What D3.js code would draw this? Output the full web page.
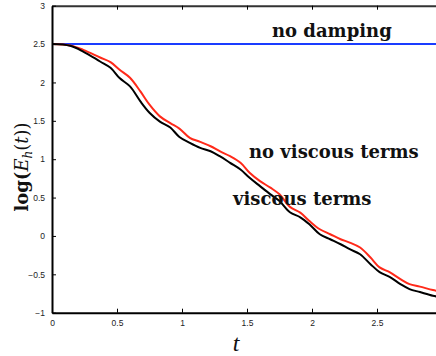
<!DOCTYPE html>
<html>
<head>
<meta charset="utf-8">
<script src="https://cdn.jsdelivr.net/npm/d3@7"></script>
<style>
  html, body { margin: 0; padding: 0; background: #fff; overflow: hidden; }
  svg { display: block; }
</style>
</head>
<body>
<svg id="chart" width="436" height="356"></svg>
<script>
// Time samples and log-energy series
const tValues = [0, 0.14, 0.24, 0.37, 0.45, 0.52, 0.60, 0.68, 0.75, 0.83,
  0.91, 0.98, 1.06, 1.14, 1.22, 1.29, 1.37, 1.45, 1.52, 1.60,
  1.68, 1.75, 1.83, 1.91, 1.98, 2.06, 2.14, 2.22, 2.29, 2.37,
  2.45, 2.52, 2.60, 2.68, 2.75, 2.83, 2.93, 3.0];
const viscous = [2.50, 2.477, 2.403, 2.273, 2.191, 2.057, 1.948, 1.753, 1.606, 1.490,
  1.412, 1.29, 1.213, 1.148, 1.104, 1.039, 0.953, 0.866, 0.758, 0.649,
  0.542, 0.455, 0.308, 0.243, 0.152, 0.022, -0.043, -0.108, -0.173, -0.238,
  -0.368, -0.471, -0.536, -0.627, -0.692, -0.731, -0.779, -0.80];
const noViscous = [2.50, 2.481, 2.425, 2.325, 2.265, 2.165, 2.061, 1.883, 1.710, 1.558,
  1.47, 1.399, 1.278, 1.226, 1.169, 1.104, 1.039, 0.953, 0.823, 0.714,
  0.629, 0.542, 0.379, 0.304, 0.195, 0.087, 0.022, -0.043, -0.086, -0.151,
  -0.281, -0.410, -0.475, -0.562, -0.627, -0.66, -0.705, -0.73];
const noDampingLevel = 2.5;
const xTicks = [0, 0.5, 1, 1.5, 2, 2.5];
const yTicks = [-1, -0.5, 0, 0.5, 1, 1.5, 2, 2.5, 3];
const seriesLabels = ["no damping", "no viscous terms", "viscous terms"];

const svg = d3.select("#chart");
const x = d3.scaleLinear().domain([0, 3]).range([52, 442]);
const y = d3.scaleLinear().domain([-1, 3]).range([312.7, 5.7]);

const tickFont = "'Liberation Sans', Arial, sans-serif";
const serif = "'DejaVu Serif', serif";

// Curves
const line = d3.line().x(d => x(d[0])).y(d => y(d[1])).curve(d3.curveCatmullRom.alpha(0.5));

svg.append("path")
  .datum(tValues.map(t => [t, noDampingLevel]))
  .attr("d", d3.line().x(d => x(d[0])).y(d => y(d[1])))
  .attr("fill", "none").attr("stroke", "#1a3cff").attr("stroke-width", 2);

svg.append("path")
  .datum(tValues.map((t, i) => [t, noViscous[i]]))
  .attr("d", line)
  .attr("fill", "none").attr("stroke", "#ff2a1a").attr("stroke-width", 2);

svg.append("path")
  .datum(tValues.map((t, i) => [t, viscous[i]]))
  .attr("d", line)
  .attr("fill", "none").attr("stroke", "#000").attr("stroke-width", 2);

// Axes
const axisBottomG = svg.append("g").attr("transform", `translate(0,${y(-1)})`)
  .call(d3.axisBottom(x).tickValues(xTicks).tickSizeInner(-4).tickSizeOuter(0).tickPadding(9)
    .tickFormat(d => d3.format("")(d)));
const axisTopG = svg.append("g").attr("transform", `translate(0,${y(3)})`)
  .call(d3.axisTop(x).tickValues(xTicks).tickSizeInner(-4).tickSizeOuter(0).tickFormat(""));
const axisLeftG = svg.append("g").attr("transform", `translate(${x(0)},0)`)
  .call(d3.axisLeft(y).tickValues(yTicks).tickSizeInner(-4).tickSizeOuter(0).tickPadding(7)
    .tickFormat(d => d3.format("")(d).replace("-", "\u2212")));

[axisBottomG, axisTopG, axisLeftG].forEach(g => {
  g.select(".domain").attr("stroke", "#000").attr("stroke-width", 2);
  g.selectAll(".tick line").attr("stroke", "#000").attr("stroke-width", 1);
  g.selectAll(".tick text").attr("font-family", tickFont).attr("font-size", 8.5).attr("fill", "#222");
});
axisTopG.select(".domain").attr("stroke", "#333");
axisBottomG.selectAll(".tick text").attr("dy", "0.5em");

// Series labels
const labelPos = [[272, 36.7], [249, 158.3], [233, 205]];
seriesLabels.forEach((s, i) => {
  svg.append("text")
    .attr("x", labelPos[i][0]).attr("y", labelPos[i][1])
    .attr("font-family", serif).attr("font-weight", "bold").attr("font-size", 18)
    .attr("fill", "#111").text(s);
});

// Axis titles
svg.append("text")
  .attr("x", 236).attr("y", 351).attr("text-anchor", "middle")
  .attr("font-family", "'Liberation Serif', serif").attr("font-style", "italic")
  .attr("font-size", 24).attr("fill", "#111").text("t");

const yl = svg.append("text")
  .attr("transform", "translate(28,167) rotate(-90)")
  .attr("text-anchor", "middle")
  .attr("font-family", serif).attr("font-size", 18).attr("fill", "#111");
yl.append("tspan").attr("font-weight", "bold").text("log(");
yl.append("tspan").attr("font-style", "italic").text("E");
yl.append("tspan").attr("font-style", "italic").attr("font-size", 12).attr("dy", 4).text("h");
yl.append("tspan").attr("dy", -4).text("(");
yl.append("tspan").attr("font-style", "italic").text("t");
yl.append("tspan").text("))");
</script>
</body>
</html>
